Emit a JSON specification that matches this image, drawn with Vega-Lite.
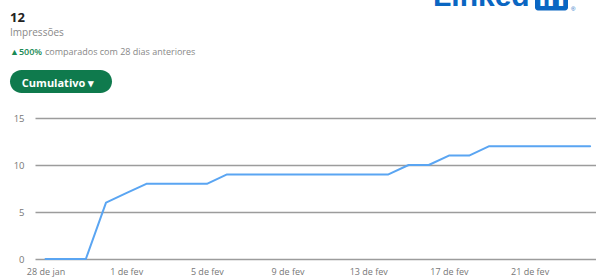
{
  "$schema": "https://vega.github.io/schema/vega-lite/v6.json",
  "autosize": {"type": "none"},
  "width": 561,
  "height": 141,
  "padding": {"left": 35, "top": 118, "right": 0, "bottom": 19},
  "background": "white",
  "config": {"view": {"stroke": null}, "font": "Open Sans"},
  "layer": [
    {
      "data": {"values": [
        {"date": "2023-01-28T00:00:00", "impressoes": 0},
        {"date": "2023-01-29T00:00:00", "impressoes": 0},
        {"date": "2023-01-30T00:00:00", "impressoes": 0},
        {"date": "2023-01-31T00:00:00", "impressoes": 6},
        {"date": "2023-02-01T00:00:00", "impressoes": 7},
        {"date": "2023-02-02T00:00:00", "impressoes": 8},
        {"date": "2023-02-03T00:00:00", "impressoes": 8},
        {"date": "2023-02-04T00:00:00", "impressoes": 8},
        {"date": "2023-02-05T00:00:00", "impressoes": 8},
        {"date": "2023-02-06T00:00:00", "impressoes": 9},
        {"date": "2023-02-07T00:00:00", "impressoes": 9},
        {"date": "2023-02-08T00:00:00", "impressoes": 9},
        {"date": "2023-02-09T00:00:00", "impressoes": 9},
        {"date": "2023-02-10T00:00:00", "impressoes": 9},
        {"date": "2023-02-11T00:00:00", "impressoes": 9},
        {"date": "2023-02-12T00:00:00", "impressoes": 9},
        {"date": "2023-02-13T00:00:00", "impressoes": 9},
        {"date": "2023-02-14T00:00:00", "impressoes": 9},
        {"date": "2023-02-15T00:00:00", "impressoes": 10},
        {"date": "2023-02-16T00:00:00", "impressoes": 10},
        {"date": "2023-02-17T00:00:00", "impressoes": 11},
        {"date": "2023-02-18T00:00:00", "impressoes": 11},
        {"date": "2023-02-19T00:00:00", "impressoes": 12},
        {"date": "2023-02-20T00:00:00", "impressoes": 12},
        {"date": "2023-02-21T00:00:00", "impressoes": 12},
        {"date": "2023-02-22T00:00:00", "impressoes": 12},
        {"date": "2023-02-23T00:00:00", "impressoes": 12},
        {"date": "2023-02-24T00:00:00", "impressoes": 12}
      ]},
      "mark": {"type": "line", "color": "#5aa5f2", "strokeWidth": 2, "strokeCap": "round", "strokeJoin": "round"},
      "encoding": {
        "x": {
          "field": "date", "type": "temporal",
          "scale": {"domain": [
            {"year": 2023, "month": 1, "date": 27, "hours": 11, "minutes": 30},
            {"year": 2023, "month": 2, "date": 24, "hours": 7}
          ]},
          "axis": {
            "title": null, "grid": false, "ticks": false, "domain": false,
            "values": [
              {"year": 2023, "month": 1, "date": 28},
              {"year": 2023, "month": 2, "date": 1},
              {"year": 2023, "month": 2, "date": 5},
              {"year": 2023, "month": 2, "date": 9},
              {"year": 2023, "month": 2, "date": 13},
              {"year": 2023, "month": 2, "date": 17},
              {"year": 2023, "month": 2, "date": 21}
            ],
            "labelExpr": "date(datum.value) + ' de ' + (month(datum.value) == 0 ? 'jan' : 'fev')",
            "labelFont": "Open Sans", "labelFontSize": 9, "labelColor": "#777777",
            "labelPadding": 8, "labelFlush": false, "labelOverlap": false
          }
        },
        "y": {
          "field": "impressoes", "type": "quantitative",
          "scale": {"domain": [0, 15], "nice": false, "zero": true},
          "axis": {
            "title": null, "values": [0, 5, 10, 15], "grid": true,
            "gridColor": "#9c9c9c", "gridWidth": 1.5, "ticks": false, "domain": false,
            "labelFont": "Open Sans", "labelFontSize": 9.5, "labelColor": "#777777",
            "labelPadding": 11
          }
        }
      }
    },
    {
      "data": {"values": [{"label": "12"}]},
      "mark": {"type": "text", "align": "left", "baseline": "alphabetic", "fontSize": 13, "fontWeight": "bold", "color": "#222222", "font": "Open Sans"},
      "encoding": {"x": {"value": -25}, "y": {"value": -96}, "text": {"field": "label"}}
    },
    {
      "data": {"values": [{"label": "Impressões"}]},
      "mark": {"type": "text", "align": "left", "baseline": "alphabetic", "fontSize": 10, "color": "#888888", "font": "Open Sans"},
      "encoding": {"x": {"value": -25}, "y": {"value": -82}, "text": {"field": "label"}}
    },
    {
      "data": {"values": [{"label": "▲500%"}]},
      "mark": {"type": "text", "align": "left", "baseline": "alphabetic", "fontSize": 9, "fontWeight": 600, "color": "#1a8a55", "font": "Open Sans"},
      "encoding": {"x": {"value": -25}, "y": {"value": -63}, "text": {"field": "label"}}
    },
    {
      "data": {"values": [{"label": "comparados com 28 dias anteriores"}]},
      "mark": {"type": "text", "align": "left", "baseline": "alphabetic", "fontSize": 9, "color": "#888888", "font": "Open Sans"},
      "encoding": {"x": {"value": 10}, "y": {"value": -63}, "text": {"field": "label"}}
    },
    {
      "data": {"values": [{"label": "Cumulativo"}]},
      "mark": {"type": "rect", "color": "#0f7a4d", "cornerRadius": 11.5},
      "encoding": {"x": {"value": -25}, "x2": {"value": 77}, "y": {"value": -48}, "y2": {"value": -25}}
    },
    {
      "data": {"values": [{"label": "Cumulativo ▾"}]},
      "mark": {"type": "text", "align": "center", "baseline": "middle", "fontSize": 11, "fontWeight": "bold", "color": "#ffffff", "font": "Open Sans"},
      "encoding": {"x": {"value": 23}, "y": {"value": -34}, "text": {"field": "label"}}
    },
    {
      "data": {"values": [{"label": "Linked"}]},
      "mark": {"type": "text", "align": "left", "baseline": "alphabetic", "fontSize": 30, "fontWeight": "bold", "color": "#0a66c2", "font": "Liberation Sans"},
      "encoding": {"x": {"value": 398}, "y": {"value": -112}, "text": {"field": "label"}}
    },
    {
      "data": {"values": [{"label": "in"}]},
      "mark": {"type": "rect", "color": "#0a66c2", "cornerRadius": 3},
      "encoding": {"x": {"value": 500}, "x2": {"value": 533}, "y": {"value": -140}, "y2": {"value": -107.5}}
    },
    {
      "data": {"values": [{"label": "in"}]},
      "mark": {"type": "text", "align": "center", "baseline": "alphabetic", "fontSize": 30, "fontWeight": "bold", "color": "#ffffff", "font": "Liberation Sans"},
      "encoding": {"x": {"value": 516.5}, "y": {"value": -112}, "text": {"field": "label"}}
    },
    {
      "data": {"values": [{"label": "®"}]},
      "mark": {"type": "text", "align": "left", "baseline": "alphabetic", "fontSize": 6, "color": "#0a66c2", "font": "Liberation Sans"},
      "encoding": {"x": {"value": 536}, "y": {"value": -107}, "text": {"field": "label"}}
    }
  ]
}
